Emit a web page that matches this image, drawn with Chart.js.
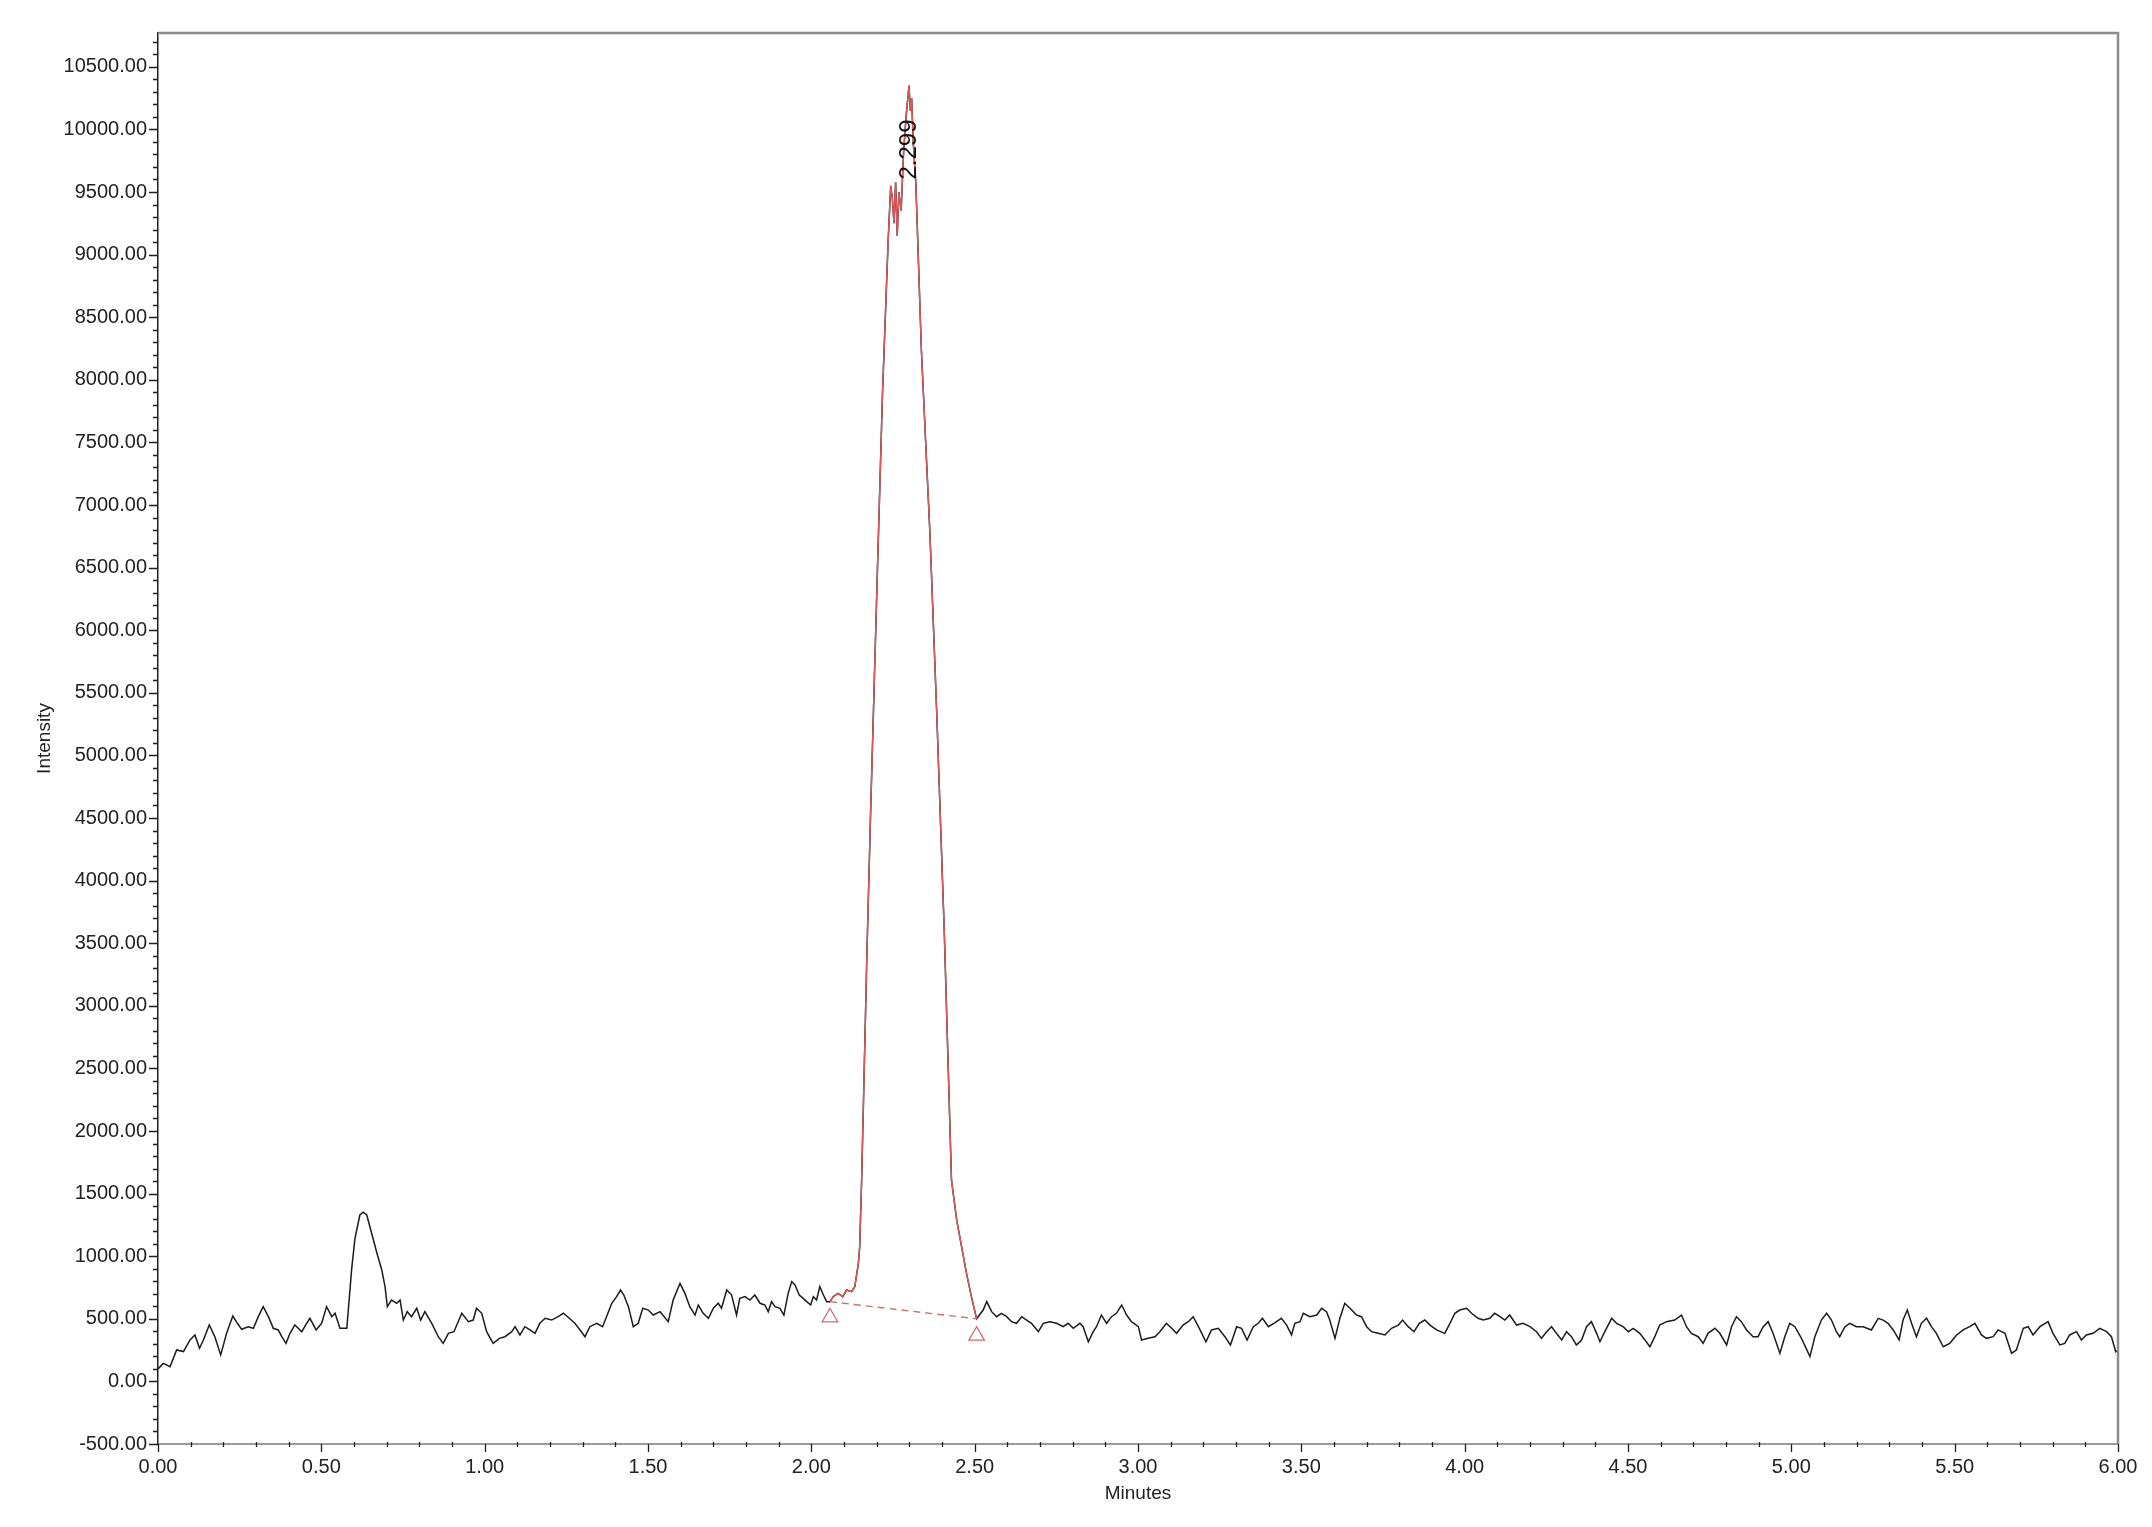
<!DOCTYPE html>
<html>
<head>
<meta charset="utf-8">
<title>Chromatogram</title>
<script src="https://cdn.jsdelivr.net/npm/chart.js@4.4.1/dist/chart.umd.min.js"></script>
<style>
  html, body { margin: 0; padding: 0; background: #ffffff; }
  #chart { display: block; }
</style>
</head>
<body>
<canvas id="chart" width="2152" height="1527"></canvas>
<script>
// ── Trace data (minutes / intensity) ─────────────────────────────

const traceTimes = [
  // 0.00 – 1.50
  0.000, 0.016, 0.037, 0.057, 0.078, 0.098, 0.113, 0.127, 0.139, 0.157,
  0.174, 0.192, 0.210, 0.229, 0.243, 0.256, 0.276, 0.292, 0.307, 0.322,
  0.338, 0.353, 0.368, 0.379, 0.392, 0.404, 0.419, 0.440, 0.455, 0.465,
  0.484, 0.501, 0.516, 0.532, 0.542, 0.557, 0.578, 0.593, 0.603, 0.618,
  0.628, 0.639, 0.654, 0.669, 0.685, 0.695, 0.702, 0.715, 0.731, 0.741,
  0.751, 0.763, 0.776, 0.792, 0.804, 0.817, 0.838, 0.858, 0.873, 0.889,
  0.906, 0.930, 0.950, 0.965, 0.975, 0.991, 1.006, 1.026, 1.045, 1.062,
  1.083, 1.093, 1.108, 1.123, 1.139, 1.154, 1.169, 1.185, 1.205, 1.225,
  1.241, 1.259, 1.276, 1.292, 1.307, 1.322, 1.343, 1.361, 1.373, 1.389,
  1.404, 1.416, 1.426, 1.440, 1.455, 1.470, 1.484, 1.501,
  // 1.50 – 2.05
  1.516, 1.537, 1.562, 1.577, 1.598, 1.613, 1.628, 1.644, 1.654, 1.669,
  1.685, 1.700, 1.715, 1.725, 1.741, 1.756, 1.771, 1.781, 1.797, 1.812,
  1.827, 1.843, 1.858, 1.868, 1.878, 1.889, 1.904, 1.916, 1.929, 1.940,
  1.950, 1.963, 1.975, 1.986, 1.998, 2.006, 2.016, 2.026, 2.037, 2.047,
  // main peak 2.05 – 2.51
  2.057, 2.067, 2.082, 2.096, 2.108, 2.123, 2.133, 2.144, 2.148, 2.154,
  2.162, 2.170, 2.181, 2.202, 2.218, 2.235, 2.243, 2.248, 2.253, 2.258,
  2.263, 2.268, 2.275, 2.282, 2.290, 2.299, 2.303, 2.307, 2.312, 2.320,
  2.337, 2.363, 2.384, 2.407, 2.418, 2.429, 2.445, 2.460, 2.475, 2.490,
  2.506,
  // 2.51 – 3.00
  2.526, 2.537, 2.552, 2.567, 2.582, 2.598, 2.613, 2.628, 2.644, 2.659,
  2.674, 2.695, 2.710, 2.730, 2.751, 2.771, 2.786, 2.802, 2.822, 2.832,
  2.848, 2.863, 2.873, 2.888, 2.904, 2.919, 2.934, 2.950, 2.965, 2.980,
  3.001,
  // 3.00 – 4.50
  3.011, 3.031, 3.052, 3.067, 3.087, 3.103, 3.118, 3.138, 3.154, 3.169,
  3.190, 3.208, 3.225, 3.246, 3.266, 3.283, 3.302, 3.317, 3.334, 3.353,
  3.368, 3.381, 3.399, 3.416, 3.439, 3.455, 3.470, 3.480, 3.496, 3.506,
  3.526, 3.547, 3.562, 3.577, 3.587, 3.603, 3.618, 3.633, 3.649, 3.669,
  3.684, 3.700, 3.715, 3.735, 3.756, 3.776, 3.797, 3.810, 3.827, 3.845,
  3.861, 3.878, 3.894, 3.914, 3.939, 3.955, 3.970, 3.985, 4.006, 4.021,
  4.041, 4.057, 4.077, 4.092, 4.108, 4.123, 4.138, 4.159, 4.179, 4.200,
  4.220, 4.235, 4.251, 4.266, 4.281, 4.297, 4.312, 4.327, 4.342, 4.358,
  4.373, 4.388, 4.404, 4.414, 4.429, 4.450, 4.465, 4.485, 4.501,
  // 4.50 – 6.00
  4.516, 4.536, 4.552, 4.567, 4.582, 4.597, 4.618, 4.643, 4.664, 4.679,
  4.694, 4.715, 4.730, 4.745, 4.766, 4.781, 4.802, 4.817, 4.832, 4.847,
  4.863, 4.883, 4.898, 4.914, 4.929, 4.944, 4.965, 4.980, 4.995, 5.011,
  5.031, 5.057, 5.072, 5.092, 5.108, 5.123, 5.138, 5.148, 5.164, 5.179,
  5.199, 5.220, 5.245, 5.266, 5.281, 5.296, 5.312, 5.330, 5.342, 5.355,
  5.368, 5.383, 5.398, 5.414, 5.429, 5.444, 5.465, 5.485, 5.506, 5.526,
  5.546, 5.562, 5.582, 5.597, 5.618, 5.633, 5.654, 5.674, 5.689, 5.710,
  5.725, 5.740, 5.761, 5.786, 5.801, 5.822, 5.837, 5.852, 5.873, 5.888,
  5.903, 5.924, 5.944, 5.965, 5.980, 5.993, 6.000,
];

const traceValues = [
  // 0.00 – 1.50
   100,  144,  118,  251,  238,  331,  371,  264,  331,  451,
   357,  211,  384,  522,  464,  416,  437,  424,  517,  597,
   517,  424,  411,  357,  304,  384,  451,  397,  464,  504,
   411,  464,  597,  517,  544,  424,  424,  903, 1143, 1329,
  1352, 1329, 1183, 1036,  890,  757,  597,  650,  624,  650,
   490,  557,  517,  584,  490,  557,  464,  357,  304,  384,
   397,  544,  477,  490,  584,  544,  397,  304,  344,  357,
   397,  437,  371,  437,  411,  384,  464,  504,  490,  517,
   544,  504,  464,  411,  357,  437,  464,  437,  517,  624,
   677,  730,  690,  597,  437,  464,  584,  570,
  // 1.50 – 2.05
   530,  557,  477,  650,  783,  703,  597,  530,  610,  544,
   504,  584,  624,  584,  730,  690,  530,  663,  677,  650,
   690,  624,  610,  557,  637,  597,  584,  530,  703,  797,
   770,  690,  663,  637,  610,  677,  650,  757,  690,  637,
  // main peak 2.05 – 2.51
   637,  677,  703,  677,  730,  717,  757,  943, 1076, 1609,
  2500, 3400, 4500, 6450, 7900, 9100, 9550, 9450, 9250, 9580,
  9150, 9500, 9350, 9800,10100,10350,10150,10250, 9900, 9564,
  8230, 6776, 5331, 3589, 2600, 1609, 1289, 1076,  863,  677,
   500,
  // 2.51 – 3.00
   570,  637,  557,  517,  544,  517,  477,  464,  517,  490,
   464,  397,  464,  477,  464,  437,  464,  424,  464,  437,
   317,  397,  437,  530,  464,  517,  544,  610,  530,  477,
   437,
  // 3.00 – 4.50
   330,  344,  357,  397,  464,  424,  384,  450,  477,  517,
   411,  317,  411,  424,  357,  291,  437,  424,  331,  437,
   464,  504,  437,  464,  504,  450,  371,  464,  477,  544,
   517,  530,  584,  557,  490,  344,  504,  624,  584,  530,
   517,  437,  397,  384,  371,  424,  450,  490,  437,  397,
   464,  490,  450,  411,  384,  464,  544,  570,  584,  544,
   504,  490,  504,  544,  517,  490,  530,  450,  464,  437,
   397,  344,  397,  437,  384,  331,  397,  357,  291,  331,
   437,  477,  384,  317,  397,  504,  464,  437,  397,
  // 4.50 – 6.00
   424,  384,  331,  277,  357,  450,  477,  490,  530,  437,
   384,  357,  304,  384,  424,  384,  291,  437,  517,  477,
   411,  357,  357,  437,  477,  384,  224,  357,  464,  437,
   344,  198,  357,  490,  544,  490,  397,  357,  437,  464,
   437,  437,  411,  504,  490,  464,  411,  331,  490,  570,
   464,  357,  464,  504,  437,  384,  277,  304,  371,  411,
   437,  464,  371,  344,  357,  411,  384,  224,  251,  424,
   437,  371,  437,  477,  384,  291,  304,  371,  397,  331,
   371,  384,  424,  397,  357,  237,  250,
];

// Integrated peak window, its drawn baseline and start/end markers
const peakStart = 2.057;
const peakEnd   = 2.506;
const peakLabel = "2.299";
const baselineTimes  = [2.057, 2.506];
const baselineValues = [637, 500];
const markerTimes    = [2.057, 2.506];
const markerValues   = [512, 365];

// Axes
const xMajorTicks = [0, 0.5, 1, 1.5, 2, 2.5, 3, 3.5, 4, 4.5, 5, 5.5, 6];
const yMajorTicks = [-500, 0, 500, 1000, 1500, 2000, 2500, 3000, 3500, 4000,
  4500, 5000, 5500, 6000, 6500, 7000, 7500, 8000, 8500, 9000, 9500, 10000, 10500];
const xMinorStep = 0.1;
const yMinorStep = 100;
const xMin = 0, xMax = 6;
const yMin = -500, yMax = 10770;

// ── Styling ──────────────────────────────────────────

const FONT = "'Liberation Sans', Arial, sans-serif";
const TEXT = "#222222";

const toPoints = (ts, vs) => ts.map((t, i) => ({ x: t, y: vs[i] }));
const allPoints  = toPoints(traceTimes, traceValues);
const peakPoints = allPoints.filter(p => p.x >= peakStart && p.x <= peakEnd);

// Minor / major tick marks plus the grey frame on top and right
const frameTicks = {
  id: "frameTicks",
  afterDraw(chart) {
    const { ctx, chartArea: a, scales: { x, y } } = chart;
    ctx.save();

    ctx.strokeStyle = "#8c8c8c";
    ctx.lineWidth = 2.5;
    ctx.beginPath();
    ctx.moveTo(a.left, a.top);
    ctx.lineTo(a.right, a.top);
    ctx.lineTo(a.right, a.bottom);
    ctx.stroke();

    ctx.strokeStyle = "#1e1e1e";
    ctx.lineWidth = 1.3;
    ctx.beginPath();
    const nY = Math.round((yMax - yMin) / yMinorStep);
    for (let i = 0; i <= nY; i++) {
      const v = yMin + i * yMinorStep;
      if (v > yMax) break;
      const major = yMajorTicks.includes(v);
      const py = Math.round(y.getPixelForValue(v)) + 0.5;
      ctx.moveTo(a.left - (major ? 9 : 5), py);
      ctx.lineTo(a.left, py);
    }
    const nX = Math.round((xMax - xMin) / xMinorStep);
    for (let i = 0; i <= nX; i++) {
      const v = +(xMin + i * xMinorStep).toFixed(3);
      const major = xMajorTicks.includes(v);
      const px = Math.round(x.getPixelForValue(v)) + 0.5;
      ctx.moveTo(px, a.bottom - (major ? 0 : 2));
      ctx.lineTo(px, a.bottom + (major ? 8 : 3));
    }
    ctx.stroke();
    ctx.restore();
  },
};

// Retention time written upright next to the apex
const apexLabel = {
  id: "apexLabel",
  afterDatasetsDraw(chart) {
    const { ctx, scales: { x, y } } = chart;
    const apex = peakPoints.reduce((m, p) => (p.y > m.y ? p : m), peakPoints[0]);
    const px = x.getPixelForValue(apex.x);
    const py = y.getPixelForValue(apex.y);
    ctx.save();
    ctx.translate(px, py + 94);
    ctx.rotate(-Math.PI / 2);
    ctx.font = `24px ${FONT}`;
    ctx.fillStyle = "#111111";
    ctx.textAlign = "left";
    ctx.textBaseline = "middle";
    ctx.fillText(peakLabel, 0, 0);
    ctx.restore();
  },
};

new Chart(document.getElementById("chart"), {
  type: "line",
  data: {
    datasets: [
      {
        label: "markers",
        data: toPoints(markerTimes, markerValues),
        showLine: false,
        pointStyle: "triangle",
        pointRadius: 9,
        pointBorderWidth: 1.3,
        pointBorderColor: "#d46a6a",
        pointBackgroundColor: "rgba(255,255,255,0)",
      },
      {
        label: "peak",
        data: peakPoints,
        borderColor: "#dc5a5a",
        borderWidth: 1.4,
        pointRadius: 0,
        tension: 0,
      },
      {
        label: "baseline",
        data: toPoints(baselineTimes, baselineValues),
        borderColor: "#c47474",
        borderWidth: 1.4,
        borderDash: [7, 5],
        pointRadius: 0,
      },
      {
        label: "trace",
        data: allPoints,
        borderColor: "#1c1c1c",
        borderWidth: 1.5,
        pointRadius: 0,
        tension: 0,
      },
    ],
  },
  options: {
    responsive: false,
    animation: false,
    events: [],
    devicePixelRatio: 1,
    layout: { padding: { top: 33, right: 34, bottom: 0, left: 0 } },
    plugins: {
      legend: { display: false },
      tooltip: { enabled: false },
    },
    scales: {
      x: {
        type: "linear",
        min: xMin, max: xMax,
        afterBuildTicks: s => { s.ticks = xMajorTicks.map(v => ({ value: v })); },
        afterFit: s => { s.height = 83; },
        ticks: {
          autoSkip: false, maxRotation: 0, padding: 11,
          color: TEXT, font: { family: FONT, size: 20 },
          callback: v => Number(v).toFixed(2),
        },
        grid: { drawOnChartArea: false, drawTicks: false },
        border: { color: "#9a9a9a", width: 2 },
        title: {
          display: true, text: "Minutes", color: TEXT,
          font: { family: FONT, size: 19 }, padding: { top: 0, bottom: 22 },
        },
      },
      y: {
        type: "linear",
        min: yMin, max: yMax,
        afterBuildTicks: s => { s.ticks = yMajorTicks.map(v => ({ value: v })); },
        afterFit: s => { s.width = 158; },
        ticks: {
          autoSkip: false, padding: 11,
          color: TEXT, font: { family: FONT, size: 20 },
          callback: v => Number(v).toFixed(2),
        },
        grid: { drawOnChartArea: false, drawTicks: false },
        border: { color: "#1e1e1e", width: 1.5 },
        title: {
          display: true, text: "Intensity", color: TEXT,
          font: { family: FONT, size: 19 }, padding: { top: 33, bottom: 0 },
        },
      },
    },
  },
  plugins: [frameTicks, apexLabel],
});
</script>
</body>
</html>
